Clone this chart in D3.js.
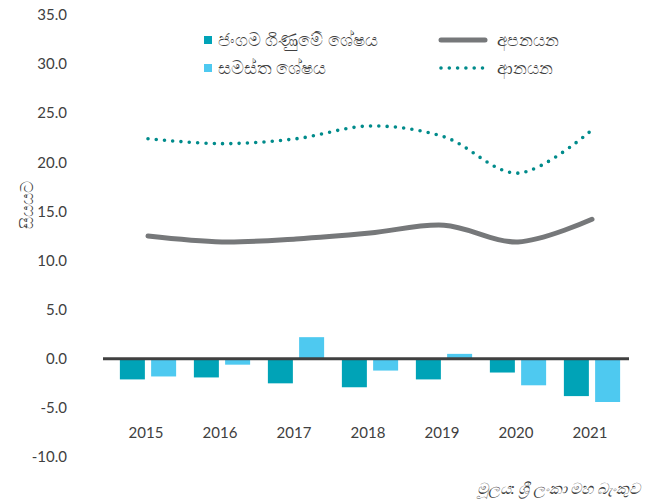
<!DOCTYPE html>
<html>
<head>
<meta charset="utf-8">
<script src="https://cdn.jsdelivr.net/npm/d3@7"></script>
<style>
  body { margin: 0; background: #fff; }
  svg { display: block; font-family: "Lato", "Noto Sans", sans-serif; }
</style>
</head>
<body>
<div id="chart"></div>
<script>
// data (% of GDP)
const years = ["2015", "2016", "2017", "2018", "2019", "2020", "2021"];
const currentAccount = [-2.1, -1.9, -2.5, -2.9, -2.1, -1.4, -3.8];
const overallBalance = [-1.8, -0.6, 2.2, -1.2, 0.5, -2.7, -4.4];
const exportsPct = [12.5, 11.9, 12.2, 12.8, 13.6, 11.9, 14.2];
const importsPct = [22.4, 21.9, 22.4, 23.7, 22.6, 18.9, 23.3];
const yTicks = [35, 30, 25, 20, 15, 10, 5, 0, -5, -10];

const barKeys = ["ca", "ob"];
const barLabels = ["ජංගම ගිණුමේ ශේෂය", "සමස්ත ශේෂය"];
const barColors = { ca: "#00A3B7", ob: "#4EC9F0" };
const lineLabels = ["අපනයන", "ආනයන"];

const width = 645, height = 502;
const svg = d3.select("#chart").append("svg")
  .attr("width", width).attr("height", height);

const y = d3.scaleLinear().domain([-10, 35]).range([457, 15]);
const x0 = d3.scaleBand().domain(years).range([111, 629])
  .paddingInner(0.24).paddingOuter(0.12);
const x1 = d3.scaleBand().domain(barKeys).range([0, x0.bandwidth()])
  .paddingInner(0.2);
const cx = (yr) => x0(yr) + x0.bandwidth() / 2;

// y tick labels
svg.append("g").selectAll("text").data(yTicks).enter().append("text")
  .attr("x", 67).attr("y", (d) => y(d))
  .attr("dy", "0.35em")
  .attr("text-anchor", "end")
  .style("font-size", "15px").style("fill", "#404040")
  .text((d) => d.toFixed(1));

// y title
svg.append("text")
  .attr("transform", "translate(27,205) rotate(-90)")
  .attr("text-anchor", "middle").attr("dy", "0.35em")
  .style("font-size", "17px").style("fill", "#404040")
  .text("සියයට");

// bars
const rows = years.map((yr, i) => ({ year: yr, ca: currentAccount[i], ob: overallBalance[i] }));
const groups = svg.append("g").selectAll("g").data(rows).enter().append("g")
  .attr("transform", (d) => `translate(${x0(d.year)},0)`);
groups.selectAll("rect")
  .data((d) => barKeys.map((k) => ({ key: k, value: d[k] })))
  .enter().append("rect")
  .attr("x", (d) => x1(d.key))
  .attr("width", x1.bandwidth())
  .attr("y", (d) => y(Math.max(0, d.value)))
  .attr("height", (d) => Math.abs(y(d.value) - y(0)))
  .style("fill", (d) => barColors[d.key]);

// zero line
svg.append("line")
  .attr("x1", 103).attr("x2", 629)
  .attr("y1", y(0)).attr("y2", y(0))
  .style("stroke", "#404040").style("stroke-width", 3);

// x labels
svg.append("g").selectAll("text").data(years).enter().append("text")
  .attr("x", (d) => cx(d) - 2).attr("y", 433)
  .attr("dy", "0.35em").attr("text-anchor", "middle")
  .style("font-size", "15px").style("fill", "#404040")
  .text((d) => d);

// lines
const line = d3.line()
  .x((d, i) => cx(years[i]))
  .y((d) => y(d))
  .curve(d3.curveCatmullRom.alpha(0.5));

svg.append("path").datum(exportsPct)
  .attr("d", line)
  .style("fill", "none").style("stroke", "#76787A")
  .style("stroke-width", 5).style("stroke-linecap", "round");

svg.append("path").datum(importsPct)
  .attr("d", line)
  .style("fill", "none").style("stroke", "#008B8B")
  .style("stroke-width", 3.6).style("stroke-linecap", "round")
  .style("stroke-dasharray", "0 8.3");

// legend
const legend = svg.append("g");
barKeys.forEach((k, i) => {
  const ly = 40 + i * 28;
  legend.append("rect").attr("x", 204).attr("y", ly - 4)
    .attr("width", 8).attr("height", 8).style("fill", barColors[k]);
  legend.append("text").attr("x", 218).attr("y", ly).attr("dy", "0.35em")
    .style("font-size", "17.5px").style("fill", "#404040").text(barLabels[i]);
});
legend.append("line").attr("x1", 441).attr("x2", 485).attr("y1", 40).attr("y2", 40)
  .style("stroke", "#76787A").style("stroke-width", 5).style("stroke-linecap", "round");
legend.append("line").attr("x1", 441).attr("x2", 485).attr("y1", 68).attr("y2", 68)
  .style("stroke", "#008B8B").style("stroke-width", 3.6).style("stroke-linecap", "round")
  .style("stroke-dasharray", "0 8.3");
lineLabels.forEach((t, i) => {
  legend.append("text").attr("x", 497).attr("y", 40 + i * 28).attr("dy", "0.35em")
    .style("font-size", "17px").style("fill", "#404040").text(t);
});

// source note
svg.append("text")
  .attr("x", 640).attr("y", 489).attr("dy", "0.35em")
  .attr("text-anchor", "end")
  .style("font-size", "15.5px").style("font-style", "italic").style("fill", "#404040")
  .text("මූලය: ශ්‍රී ලංකා මහ බැංකුව");
</script>
</body>
</html>
